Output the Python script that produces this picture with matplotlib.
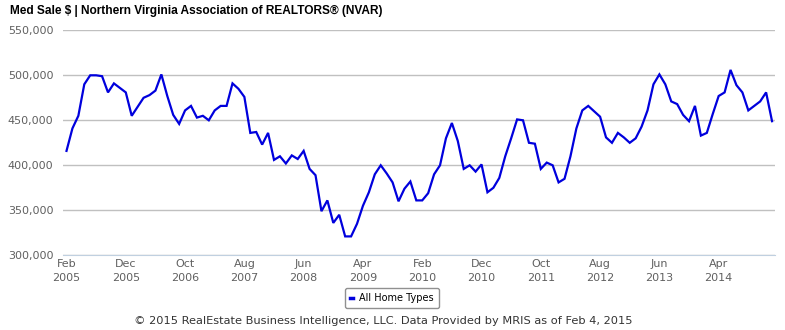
import matplotlib.pyplot as plt
from matplotlib.lines import Line2D
from matplotlib.ticker import FuncFormatter

# Monthly median sale price, Feb 2005 - Jan 2015 (thousands of $)
med_price_k = [
    416, 441, 455, 490, 500, 500, 499, 481, 491, 486, 481, 455,
    465, 475, 478, 483, 501, 477, 456, 446, 461, 466, 453, 455,
    450, 461, 466, 466, 491, 485, 476, 436, 437, 423, 436, 406,
    410, 402, 411, 407, 416, 396, 389, 349, 361, 336, 345, 321,
    321, 335, 355, 370, 390, 400, 391, 381, 360, 374, 382, 361,
    361, 369, 390, 400, 430, 447, 427, 396, 400, 393, 401, 370,
    375, 386, 410, 430, 451, 450, 425, 424, 396, 403, 400, 381,
    385, 410, 441, 461, 466, 460, 454, 431, 425, 436, 431, 425,
    430, 443, 461, 490, 501, 490, 471, 468, 456, 449, 466, 433,
    436, 457, 477, 481, 506, 489, 481, 461, 466, 471, 481, 449,
]
tick_labels = ['Feb\n2005', 'Dec\n2005', 'Oct\n2006', 'Aug\n2007', 'Jun\n2008', 'Apr\n2009',
               'Feb\n2010', 'Dec\n2010', 'Oct\n2011', 'Aug\n2012', 'Jun\n2013', 'Apr\n2014']
y_ticks = [300000, 350000, 400000, 450000, 500000, 550000]

prices = [v * 1000 for v in med_price_k]
months = list(range(len(prices)))

fig = plt.figure(figsize=(7.85, 3.3), dpi=100)
ax = fig.add_axes([63 / 785, 1 - 255.3 / 330, 712 / 785, 225 / 330])

ax.plot(months, prices, color='#0000dd', lw=1.6, solid_joinstyle='miter', clip_on=False, zorder=3)

ax.set_xlim(-0.59, 119.5)
ax.set_ylim(300000, 550000)
ax.set_yticks(y_ticks)
ax.yaxis.set_major_formatter(FuncFormatter(lambda v, p: f'{int(v):,}'))
ax.set_xticks(list(range(0, 120, 10)))
ax.set_xticklabels(tick_labels, linespacing=1.45)

ax.grid(axis='y', color='#c0c0c0', lw=1)
ax.set_axisbelow(True)
for s in ['top', 'right', 'left']:
    ax.spines[s].set_visible(False)
ax.spines['bottom'].set_color('#c0d0e0')
ax.tick_params(axis='both', length=0, labelsize=8, labelcolor='#606060')
ax.tick_params(axis='y', pad=7)
ax.tick_params(axis='x', pad=3)

fig.text(10 / 785, 1 - 11 / 330, 'Med Sale $ | Northern Virginia Association of REALTORS\u00ae (NVAR)',
         fontsize=8.6, fontweight='bold', family='Liberation Sans', va='center', ha='left')

handle = Line2D([], [], color='#0000dd', lw=2.5)
fig.legend([handle], ['All Home Types'], loc='center', bbox_to_anchor=(392 / 785, 1 - 298 / 330),
           fontsize=7, handlelength=0.35, handletextpad=0.6, frameon=True, fancybox=True,
           edgecolor='#909090', framealpha=1, borderpad=0.5)

fig.text(383 / 785, 1 - 321 / 330,
         '\u00a9 2015 RealEstate Business Intelligence, LLC. Data Provided by MRIS as of Feb 4, 2015',
         fontsize=8.2, color='#333333', ha='center', va='center')

fig.savefig('out.png', dpi=100)
